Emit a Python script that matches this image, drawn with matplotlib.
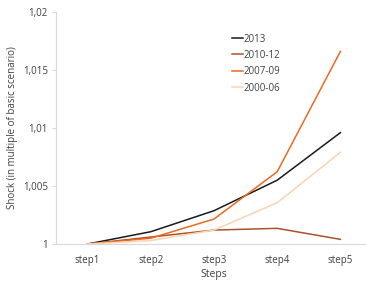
import matplotlib
matplotlib.use("Agg")
import matplotlib.pyplot as plt
from matplotlib.ticker import FuncFormatter

steps = ["step1", "step2", "step3", "step4", "step5"]
series_names = ["2013", "2010-12", "2007-09", "2000-06"]
v2013 = [1.0, 1.00106, 1.00287, 1.0055, 1.0096]
v2010_12 = [1.0, 1.0006, 1.0012, 1.00135, 1.0004]
v2007_09 = [1.0, 1.0005, 1.00215, 1.00623, 1.0166]
v2000_06 = [1.0, 1.0003, 1.0012, 1.00356, 1.0079]
colors = ["#1a1a1a", "#a9532a", "#ea6a22", "#fdd3b0"]

plt.rcParams['font.family'] = ['Open Sans', 'DejaVu Sans']

fig = plt.figure(figsize=(3.66, 2.84), dpi=100)
ax = fig.add_axes([56 / 366, 40 / 284, 316 / 366, 232 / 284])

x = list(range(len(steps)))
for name, vals, c in zip(series_names, [v2013, v2010_12, v2007_09, v2000_06], colors):
    ax.plot(x, vals, color=c, lw=1.1, label=name)

ax.set_xlim(-0.5, 4.5)
ax.set_ylim(1.0, 1.02)
ax.set_yticks([1.0, 1.005, 1.01, 1.015, 1.02])
ax.yaxis.set_major_formatter(FuncFormatter(lambda v, p: f"{v:g}".replace(".", ",")))
ax.set_xticks(x)
ax.set_xticklabels(steps)

for s in ["top", "right"]:
    ax.spines[s].set_visible(False)
for s in ["left", "bottom"]:
    ax.spines[s].set_color("#d9d9d9")
ax.tick_params(axis="y", length=3, color="#d9d9d9", labelsize=7, labelcolor="#404040", pad=3)
ax.tick_params(axis="x", length=0, labelsize=7, labelcolor="#404040", pad=8)

ax.set_xlabel("Steps", fontsize=7.5, color="#404040", labelpad=2)
ax.set_ylabel("Shock (in multiple of basic scenario)", fontsize=7, color="#404040", labelpad=3)

ax.legend(loc="upper left", bbox_to_anchor=(0.53, 0.945), frameon=False, fontsize=7,
          handlelength=1.1, handletextpad=0.1, labelspacing=0.55, labelcolor="#404040")

fig.savefig("out.png", dpi=100)
